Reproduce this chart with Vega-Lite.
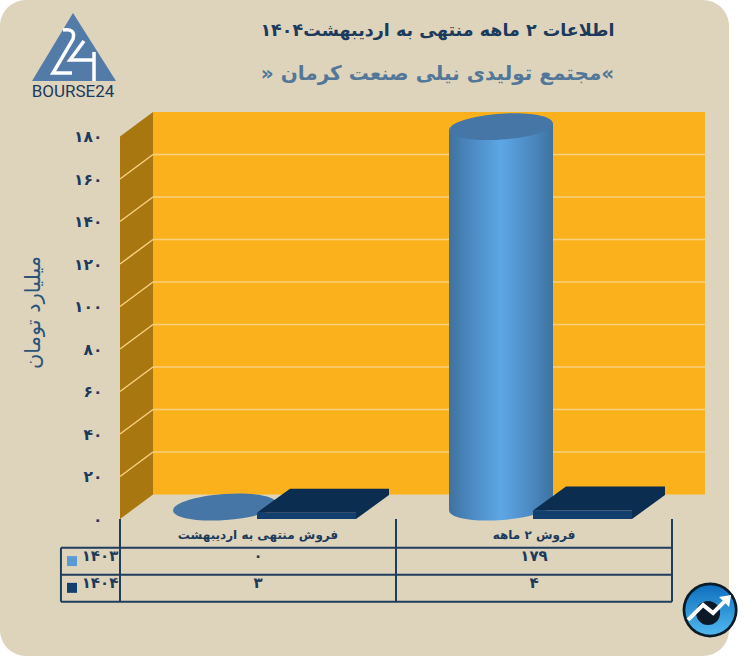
{
"$schema":"https://vega.github.io/schema/vega-lite/v6.json",
"width":729,"height":656,"padding":{"left":0,"top":0,"right":27,"bottom":0},"autosize":{"type":"none"},"background":"#ffffff",
"view":{"fill":"#ded4bb","stroke":null,"cornerRadius":26},
"config":{"axisX":{"disable":true},"axisY":{"domain":false,"ticks":false,"grid":false,"offset":-102,"labelPadding":0,"labelFont":"DejaVu Sans","labelFontWeight":"bold","labelFontSize":15.5,"labelColor":"#1c3a5c","titleFont":"DejaVu Sans","titleFontSize":21,"titleFontWeight":"normal","titleColor":"#2c5478"},"text":{"font":"DejaVu Sans"}},
"title":{"text":"اطلاعات ۲ ماهه منتهی به اردیبهشت۱۴۰۴","subtitle":"» مجتمع تولیدی نیلی صنعت کرمان«","anchor":"middle","frame":"group","dx":73,"offset":-84,"font":"DejaVu Sans","fontSize":17.5,"fontWeight":"bold","color":"#1c3a5c","subtitleFont":"DejaVu Sans","subtitleFontSize":20,"subtitleFontWeight":"bold","subtitleColor":"#527799","subtitlePadding":25},
"datasets":{
"sales":[
{"category":"فروش منتهی به  اردیبهشت","slot":1,"series":"۱۴۰۳","value":0,"label":"۰"},
{"category":"فروش منتهی به  اردیبهشت","slot":1,"series":"۱۴۰۴","value":3,"label":"۳"},
{"category":"فروش ۲  ماهه","slot":2,"series":"۱۴۰۳","value":179,"label":"۱۷۹"},
{"category":"فروش ۲  ماهه","slot":2,"series":"۱۴۰۴","value":4,"label":"۴"}],
"ticks":[{"v":20},{"v":40},{"v":60},{"v":80},{"v":100},{"v":120},{"v":140},{"v":160}],
"sideWall":[{"pos":0.5,"low":0,"high":180},{"pos":0.6196,"low":11.5,"high":191.5}],
"tableH":[{"y":-13.5,"from":0.286},{"y":-26.2,"from":0.286},{"y":-38.9,"from":0.286}],
"tableV":[{"pos":0.5,"top":0,"bottom":-38.9},{"pos":1.5,"top":0,"bottom":-38.9},{"pos":2.5,"top":0,"bottom":-38.9},{"pos":0.286,"top":-13.5,"bottom":-38.9}],
"logo":[{"pos":0.3297,"level":222.1,"brand":"BOURSE24","brandLevel":201}],
"badge":[{"pos":2.638,"level":-42.8}]
},
"layer":[
{"data":{"values":[{"a":1}]},"mark":{"type":"rect","fill":"#fbb11b","xOffset":33,"x2Offset":33,"yOffset":-24.5,"y2Offset":-24.5},
"encoding":{"x":{"datum":0.5,"type":"quantitative","scale":{"domain":[0.5,2.5],"range":[120,672],"nice":false,"zero":false,"padding":0}},"x2":{"datum":2.5},
"y":{"datum":0,"type":"quantitative","scale":{"domain":[0,180],"range":[519,136.5],"nice":false,"zero":false,"padding":0},
"axis":{"values":[0,20,40,60,80,100,120,140,160,180],"labelExpr":"{'0':'۰','20':'۲۰','40':'۴۰','60':'۶۰','80':'۸۰','100':'۱۰۰','120':'۱۲۰','140':'۱۴۰','160':'۱۶۰','180':'۱۸۰'}[datum.label]","title":"میلیارد تومان","titleAngle":270,"titleX":-69,"titleY":312,"titleAnchor":"middle","titleBaseline":"middle"}},"y2":{"datum":180}}},
{"data":{"name":"sideWall"},"mark":{"type":"area","fill":"#a8770f","opacity":1},"encoding":{"x":{"field":"pos","type":"quantitative"},"y":{"field":"low","type":"quantitative"},"y2":{"field":"high"}}},
{"data":{"name":"ticks"},"mark":{"type":"rule","color":"#f8d080","strokeWidth":1.5,"xOffset":33,"x2Offset":33,"yOffset":-24.5},"encoding":{"x":{"datum":0.5,"type":"quantitative"},"x2":{"datum":2.5},"y":{"field":"v","type":"quantitative"}}},
{"data":{"name":"ticks"},"mark":{"type":"rule","color":"#f8d080","strokeWidth":1.5,"x2Offset":33,"y2Offset":-24.5},"encoding":{"x":{"datum":0.5,"type":"quantitative"},"x2":{"datum":0.5},"y":{"field":"v","type":"quantitative"},"y2":{"field":"v"}}},
{"data":{"name":"sales"},"transform":[{"filter":"datum.series==='۱۴۰۳' && datum.value>0"}],
"mark":{"type":"point","filled":true,"opacity":1,"strokeWidth":0,"size":10816,"xOffset":-33,"yOffset":-12,"shape":"M0.998,-0.07C1.007,0.068,0.568,0.211,0.017,0.249C-0.534,0.288,-0.988,0.208,-0.998,0.07C-1.007,-0.068,-0.568,-0.211,-0.017,-0.249C0.534,-0.288,0.988,-0.208,0.998,-0.07Z",
"fill":{"gradient":"linear","x1":0,"x2":1,"y1":0,"y2":0,"stops":[{"offset":0,"color":"#3f729f"},{"offset":0.18,"color":"#4a86bd"},{"offset":0.5,"color":"#5da7e6"},{"offset":0.82,"color":"#4a86bd"},{"offset":1,"color":"#3f729f"}]}},
"encoding":{"x":{"field":"slot","type":"quantitative"},"y":{"datum":0,"type":"quantitative"}}},
{"data":{"name":"sales"},"transform":[{"filter":"datum.series==='۱۴۰۳' && datum.value>0"}],
"mark":{"type":"bar","width":104,"xOffset":-33,"yOffset":-7,"y2Offset":-9,
"fill":{"gradient":"linear","x1":0,"x2":1,"y1":0,"y2":0,"stops":[{"offset":0,"color":"#3f729f"},{"offset":0.18,"color":"#4a86bd"},{"offset":0.5,"color":"#5da7e6"},{"offset":0.82,"color":"#4a86bd"},{"offset":1,"color":"#3f729f"}]}},
"encoding":{"x":{"field":"slot","type":"quantitative"},"y":{"field":"value","type":"quantitative"},"y2":{"datum":0}}},
{"data":{"name":"sales"},"transform":[{"filter":"datum.series==='۱۴۰۳' && datum.value>0"}],
"mark":{"type":"point","filled":true,"opacity":1,"strokeWidth":0,"size":10816,"xOffset":-33,"yOffset":-12,"shape":"M-1,0.07L1,-0.07L1,0.12L-1,0.12Z",
"fill":{"gradient":"linear","x1":0,"x2":1,"y1":0,"y2":0,"stops":[{"offset":0,"color":"#3f729f"},{"offset":0.18,"color":"#4a86bd"},{"offset":0.5,"color":"#5da7e6"},{"offset":0.82,"color":"#4a86bd"},{"offset":1,"color":"#3f729f"}]}},
"encoding":{"x":{"field":"slot","type":"quantitative"},"y":{"field":"value","type":"quantitative"}}},
{"data":{"name":"sales"},"transform":[{"filter":"datum.series==='۱۴۰۳'"}],
"mark":{"type":"point","filled":true,"opacity":1,"strokeWidth":0,"size":10816,"xOffset":-33,"yOffset":-12,"fill":"#4576a6","shape":"M0.998,-0.07C1.007,0.068,0.568,0.211,0.017,0.249C-0.534,0.288,-0.988,0.208,-0.998,0.07C-1.007,-0.068,-0.568,-0.211,-0.017,-0.249C0.534,-0.288,0.988,-0.208,0.998,-0.07Z"},
"encoding":{"x":{"field":"slot","type":"quantitative"},"y":{"field":"value","type":"quantitative"}}},
{"data":{"name":"sales"},"transform":[{"filter":"datum.series==='۱۴۰۴'"}],
"mark":{"type":"point","filled":true,"opacity":1,"strokeWidth":0,"size":10000,"xOffset":48.5,"fill":"#0b2d50","shape":"M0.99,0L1.65,-0.48L1.65,-0.58L0.99,-0.1Z"},
"encoding":{"x":{"field":"slot","type":"quantitative"},"y":{"datum":0,"type":"quantitative"}}},
{"data":{"name":"sales"},"transform":[{"filter":"datum.series==='۱۴۰۴'"}],
"mark":{"type":"point","filled":true,"opacity":1,"strokeWidth":0,"size":10000,"xOffset":48.5,"fill":"#0b2d50","shape":"M-0.99,0L-0.33,-0.48L1.65,-0.48L1.65,-0.38L0.99,0.1L0.99,0Z"},
"encoding":{"x":{"field":"slot","type":"quantitative"},"y":{"field":"value","type":"quantitative"}}},
{"data":{"name":"sales"},"transform":[{"filter":"datum.series==='۱۴۰۴'"}],
"mark":{"type":"bar","width":99,"xOffset":48.5,"fill":"#123f6e"},
"encoding":{"x":{"field":"slot","type":"quantitative"},"y":{"field":"value","type":"quantitative"},"y2":{"datum":0}}},
{"data":{"name":"tableH"},"mark":{"type":"rule","color":"#1f3d5c","strokeWidth":2},"encoding":{"x":{"field":"from","type":"quantitative"},"x2":{"datum":2.5},"y":{"field":"y","type":"quantitative"}}},
{"data":{"name":"tableV"},"mark":{"type":"rule","color":"#1f3d5c","strokeWidth":2},"encoding":{"x":{"field":"pos","type":"quantitative"},"y":{"field":"top","type":"quantitative"},"y2":{"field":"bottom"}}},
{"data":{"name":"sales"},"transform":[{"filter":"datum.series==='۱۴۰۳'"}],"mark":{"type":"text","fontWeight":"bold","fontSize":12,"color":"#1c3a5c","baseline":"middle"},
"encoding":{"x":{"field":"slot","type":"quantitative"},"y":{"datum":-7.4,"type":"quantitative"},"text":{"field":"category"}}},
{"data":{"name":"sales"},"transform":[{"filter":"datum.series==='۱۴۰۳'"}],"mark":{"type":"text","fontWeight":"bold","fontSize":15,"color":"#1c3a5c","baseline":"middle"},
"encoding":{"x":{"field":"slot","type":"quantitative"},"y":{"datum":-17.5,"type":"quantitative"},"text":{"field":"label"}}},
{"data":{"name":"sales"},"transform":[{"filter":"datum.series==='۱۴۰۴'"}],"mark":{"type":"text","fontWeight":"bold","fontSize":15,"color":"#1c3a5c","baseline":"middle"},
"encoding":{"x":{"field":"slot","type":"quantitative"},"y":{"datum":-30,"type":"quantitative"},"text":{"field":"label"}}},
{"data":{"name":"sales"},"transform":[{"filter":"datum.series==='۱۴۰۳' && datum.slot===1"}],"mark":{"type":"text","fontWeight":"bold","fontSize":15,"color":"#1c3a5c","baseline":"middle"},
"encoding":{"x":{"datum":0.4275,"type":"quantitative"},"y":{"datum":-17.5,"type":"quantitative"},"text":{"field":"series"}}},
{"data":{"name":"sales"},"transform":[{"filter":"datum.series==='۱۴۰۴' && datum.slot===1"}],"mark":{"type":"text","fontWeight":"bold","fontSize":15,"color":"#1c3a5c","baseline":"middle"},
"encoding":{"x":{"datum":0.4275,"type":"quantitative"},"y":{"datum":-30,"type":"quantitative"},"text":{"field":"series"}}},
{"data":{"name":"sales"},"transform":[{"filter":"datum.series==='۱۴۰۳' && datum.slot===1"}],"mark":{"type":"point","shape":"square","filled":true,"opacity":1,"size":100,"fill":"#5b9bd5","strokeWidth":0},
"encoding":{"x":{"datum":0.326,"type":"quantitative"},"y":{"datum":-19.8,"type":"quantitative"}}},
{"data":{"name":"sales"},"transform":[{"filter":"datum.series==='۱۴۰۴' && datum.slot===1"}],"mark":{"type":"point","shape":"square","filled":true,"opacity":1,"size":100,"fill":"#123f6e","strokeWidth":0},
"encoding":{"x":{"datum":0.326,"type":"quantitative"},"y":{"datum":-32.4,"type":"quantitative"}}},
{"data":{"name":"logo"},"mark":{"type":"point","filled":true,"opacity":1,"strokeWidth":0,"size":10000,"fill":"#527ba8","shape":"M0,-0.68L-0.82,0.68L0.86,0.68Z"},
"encoding":{"x":{"field":"pos","type":"quantitative"},"y":{"field":"level","type":"quantitative"}}},
{"data":{"name":"logo"},"mark":{"type":"point","filled":false,"opacity":1,"stroke":"#ffffff","strokeWidth":3.5,"size":10000,"shape":"M-0.2,-0.34Q0.06,-0.38,0,-0.16L-0.4,0.52L-0.02,0.52M0.22,-0.12L-0.06,0.26L0.42,0.26M0.42,0.1L0.42,0.68"},
"encoding":{"x":{"field":"pos","type":"quantitative"},"y":{"field":"level","type":"quantitative"}}},
{"data":{"name":"logo"},"mark":{"type":"text","font":"Roboto","fontSize":17,"color":"#1c3a5c","baseline":"middle"},
"encoding":{"x":{"field":"pos","type":"quantitative"},"y":{"field":"brandLevel","type":"quantitative"},"text":{"field":"brand"}}},
{"data":{"name":"badge"},"mark":{"type":"point","shape":"circle","filled":true,"opacity":1,"size":3025,"fill":"#0a1a26","strokeWidth":0},
"encoding":{"x":{"field":"pos","type":"quantitative"},"y":{"field":"level","type":"quantitative"}}},
{"data":{"name":"badge"},"mark":{"type":"point","shape":"circle","filled":true,"opacity":1,"size":2450,"strokeWidth":0,"fill":{"gradient":"linear","x1":0,"x2":0,"y1":0,"y2":1,"stops":[{"offset":0,"color":"#0f70bf"},{"offset":1,"color":"#4fb8ee"}]}},
"encoding":{"x":{"field":"pos","type":"quantitative"},"y":{"field":"level","type":"quantitative"}}},
{"data":{"name":"badge"},"mark":{"type":"point","shape":"circle","filled":true,"opacity":1,"size":576,"fill":"#0a1a26","strokeWidth":0,"xOffset":-2,"yOffset":3},
"encoding":{"x":{"field":"pos","type":"quantitative"},"y":{"field":"level","type":"quantitative"}}},
{"data":{"name":"badge"},"mark":{"type":"point","filled":false,"opacity":1,"stroke":"#ffffff","strokeWidth":4,"size":10000,"shape":"M-0.44,0.2L-0.14,-0.1L0.06,0.06L0.3,-0.18"},
"encoding":{"x":{"field":"pos","type":"quantitative"},"y":{"field":"level","type":"quantitative"}}},
{"data":{"name":"badge"},"mark":{"type":"point","filled":true,"opacity":1,"fill":"#ffffff","strokeWidth":0,"size":10000,"shape":"M0.42,-0.3L0.18,-0.26L0.38,-0.06Z"},
"encoding":{"x":{"field":"pos","type":"quantitative"},"y":{"field":"level","type":"quantitative"}}}
]
}
